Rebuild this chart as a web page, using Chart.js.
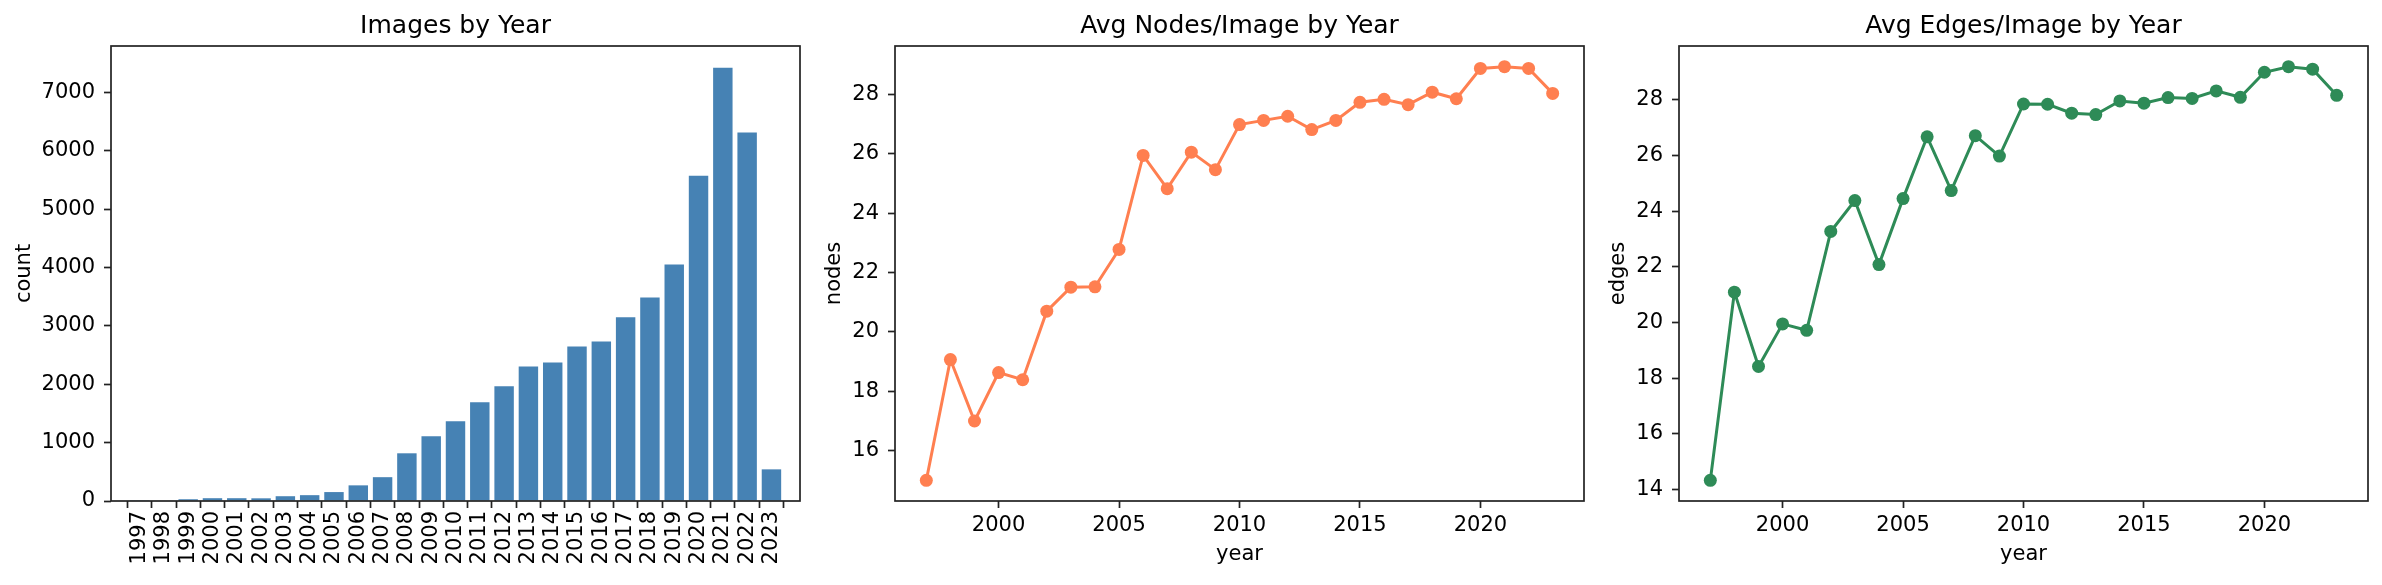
<!DOCTYPE html>
<html>
<head>
<meta charset="utf-8">
<title>Images by Year</title>
<script src="https://cdn.jsdelivr.net/npm/chart.js@4.4.1/dist/chart.umd.min.js"></script>
<style>
  body { margin: 0; background: #fff; }
  .panel { position: absolute; top: 0; height: 585px; }
</style>
</head>
<body>
<div class="panel" style="left:0;width:810px"><canvas id="countChart"></canvas></div>
<div class="panel" style="left:810px;width:784px"><canvas id="nodesChart"></canvas></div>
<div class="panel" style="left:1594px;width:784px"><canvas id="edgesChart"></canvas></div>
<script>
// values
const years = [1997, 1998, 1999, 2000, 2001, 2002, 2003, 2004, 2005, 2006, 2007, 2008, 2009,
  2010, 2011, 2012, 2013, 2014, 2015, 2016, 2017, 2018, 2019, 2020, 2021, 2022, 2023];
const imageCounts = [3, 8, 30, 48, 48, 46, 82, 100, 153, 268, 408, 817, 1110,
  1366, 1691, 1966, 2304, 2374, 2648, 2731, 3146, 3484, 4052, 5571, 7422, 6311, 542];
const avgNodes = [15.0, 19.07, 17.0, 18.63, 18.39, 20.70, 21.51, 21.52, 22.78, 25.95, 24.83, 26.06, 25.47,
  26.99, 27.13, 27.27, 26.82, 27.13, 27.74, 27.84, 27.66, 28.08, 27.86, 28.88, 28.94, 28.88, 28.04];
const avgEdges = [14.33, 21.09, 18.42, 19.95, 19.72, 23.27, 24.38, 22.08, 24.45, 26.67, 24.74, 26.71, 25.98,
  27.85, 27.84, 27.52, 27.47, 27.96, 27.88, 28.08, 28.05, 28.32, 28.09, 28.99, 29.19, 29.10, 28.16];

const lineYearTicks = [2000, 2005, 2010, 2015, 2020];
const countTicks = [0, 1000, 2000, 3000, 4000, 5000, 6000, 7000];
const nodeTicks = [16, 18, 20, 22, 24, 26, 28];
const edgeTicks = [14, 16, 18, 20, 22, 24, 26, 28];

Chart.defaults.font.family = "'DejaVu Sans', sans-serif";
Chart.defaults.font.size = 21;
Chart.defaults.color = "#000";
Chart.defaults.animation = false;

// matplotlib-like box around the plot area
const frame = {
  id: "frame",
  afterDatasetsDraw(chart) {
    const a = chart.chartArea;
    const ctx = chart.ctx;
    ctx.save();
    ctx.strokeStyle = "#222";
    ctx.lineWidth = 1.7;
    ctx.strokeRect(a.left, a.top, a.right - a.left, a.bottom - a.top);
    ctx.restore();
  }
};

// matplotlib autoscale margin (5% each side)
function padded(values) {
  const lo = Math.min(...values);
  const hi = Math.max(...values);
  const m = (hi - lo) * 0.05;
  return { min: lo - m, max: hi + m };
}

function tickGrid() {
  return {
    display: true,
    drawOnChartArea: false,
    drawTicks: true,
    tickLength: 7,
    tickWidth: 1.7,
    tickColor: "#222"
  };
}

function xAxis(cfg) {
  return Object.assign({
    type: "linear",
    border: { display: false },
    grid: tickGrid(),
    afterFit: (s) => { s.height = 84; }
  }, cfg);
}

function yAxis(label, tickValues, range) {
  return {
    type: "linear",
    min: range.min,
    max: range.max,
    border: { display: false },
    grid: tickGrid(),
    afterBuildTicks: (s) => { s.ticks = tickValues.map((v) => ({ value: v })); },
    ticks: { padding: 9, callback: (v) => String(v) },
    title: { display: true, text: label, padding: { top: 12, bottom: 0 } },
    afterFit: (s) => { s.width = s.chart.canvas.id === "countChart" ? 111 : 85; }
  };
}

function titleOpts(text) {
  return {
    display: true,
    text: text,
    fullSize: false,
    font: { size: 25, weight: "normal" },
    color: "#000",
    padding: { top: 11, bottom: 5 }
  };
}

const layout = { padding: { left: 0, right: 10, top: 0, bottom: 0 } };

new Chart(document.getElementById("countChart"), {
  type: "bar",
  data: {
    datasets: [{
      data: years.map((y, i) => ({ x: y, y: imageCounts[i] })),
      backgroundColor: "#4682B4",
      borderWidth: 0,
      barPercentage: 0.8,
      categoryPercentage: 1
    }]
  },
  options: {
    responsive: true,
    maintainAspectRatio: false,
    devicePixelRatio: 1,
    layout: layout,
    plugins: {
      legend: { display: false },
      tooltip: { enabled: false },
      title: titleOpts("Images by Year")
    },
    scales: {
      x: xAxis({
        min: years[0] - 0.65,
        max: years[years.length - 1] + 0.65,
        afterBuildTicks: (s) => { s.ticks = years.map((v) => ({ value: v })); },
        ticks: { autoSkip: false, minRotation: 90, maxRotation: 90, padding: 3, callback: (v) => String(v) }
      }),
      y: yAxis("count", countTicks, { min: 0, max: Math.max(...imageCounts) * 1.05 })
    }
  },
  plugins: [frame]
});

function lineChart(id, title, label, values, color, tickValues) {
  const xr = padded(years);
  new Chart(document.getElementById(id), {
    type: "line",
    data: {
      datasets: [{
        data: years.map((y, i) => ({ x: y, y: values[i] })),
        borderColor: color,
        backgroundColor: color,
        borderWidth: 3,
        pointRadius: 6.5,
        pointBorderWidth: 0,
        pointBackgroundColor: color,
        tension: 0,
        fill: false
      }]
    },
    options: {
      responsive: true,
      maintainAspectRatio: false,
      devicePixelRatio: 1,
      layout: layout,
      plugins: {
        legend: { display: false },
        tooltip: { enabled: false },
        title: titleOpts(title)
      },
      scales: {
        x: xAxis({
          min: xr.min,
          max: xr.max,
          afterBuildTicks: (s) => { s.ticks = lineYearTicks.map((v) => ({ value: v })); },
          ticks: { autoSkip: false, maxRotation: 0, padding: 5, callback: (v) => String(v) },
          title: { display: true, text: "year", padding: { top: 0, bottom: 18 } }
        }),
        y: yAxis(label, tickValues, padded(values))
      }
    },
    plugins: [frame]
  });
}

lineChart("nodesChart", "Avg Nodes/Image by Year", "nodes", avgNodes, "#FF7F50", nodeTicks);
lineChart("edgesChart", "Avg Edges/Image by Year", "edges", avgEdges, "#2E8B57", edgeTicks);
</script>
</body>
</html>
